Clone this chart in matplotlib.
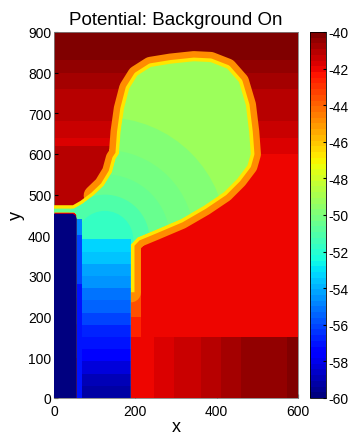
import numpy as np
import matplotlib
matplotlib.use('Agg')
import matplotlib.pyplot as plt
from matplotlib.collections import PatchCollection
from matplotlib.patches import Polygon, Rectangle, Circle
from matplotlib.colors import Normalize
from matplotlib.cm import ScalarMappable

plt.rcParams['font.family'] = ['Liberation Sans', 'DejaVu Sans']
plt.rcParams['axes.unicode_minus'] = False

# potential values
bg_bottoms = [0, 600, 640, 680, 720, 760, 800, 830]
bg_values = [-42.1, -41.7, -41.4, -41.2, -41.0, -40.7, -40.45, -40.15]

pocket_box = [0, 460, 150, 160]          # x, y, w, h of left red pocket
pocket_value = -41.2

lower_right_edges = [189, 246, 295, 361, 410, 459, 508, 574, 600]
lower_right_values = [-42.1, -41.7, -41.3, -41.0, -40.8, -40.6, -40.4, -40.15]
lower_right_top = 150

fade_bottoms = [150, 200]
fade_tops = [200, 262]
fade_values = [-42.7, -43.7]

# inner (green) edge of the orange border, from the channel up round the bulb
border_x = [189, 189, 205, 246, 312, 369, 418, 451, 476, 484, 480, 472, 455, 426,
            385, 344, 287, 238, 205, 185, 172, 164, 160, 152, 143, 123, 98, 70, 49, 0]
border_y = [260, 378, 395, 412, 440, 473, 506, 539, 572, 600, 654, 720, 777, 810,
            826, 828, 822, 814, 793, 761, 711, 654, 600, 588, 555, 522, 498, 477, 465, 465]
close_x = [0, 50, 56, 56, 189, 189]
close_y = [457, 457, 450, 0, 0, 230]
orange_end = 26          # the thick orange part stops at the neck
border_value = -44.8
border_inner_value = -46.6
bulb_value = -49.3

neck_center = (125, 390)
neck_radii = [300, 220, 160, 110, 70]
neck_values = [-49.7, -50.1, -50.5, -51.0, -51.6]

channel_bottoms = [0, 30, 60, 90, 120, 150, 180, 210, 240, 270, 300, 330, 360]
channel_values = [-59.3, -58.8, -58.2, -57.6, -57.1, -56.6, -56.1, -55.6,
                  -55.1, -54.6, -54.2, -53.7, -53.2]
channel_top = 392

strip_bottoms = [0, 280, 400]
strip_tops = [280, 400, 440]
strip_values = [-57.0, -56.0, -55.0]

electrode_x = [0, 56, 56, 53, 46, 0]
electrode_y = [0, 0, 440, 449, 453, 453]
electrode_value = -59.8

cbar_ticks = list(range(-40, -61, -2))

cmap = plt.get_cmap('jet', 64)
norm = Normalize(-60, -40)

fig = plt.figure(figsize=(3.51, 4.35), dpi=100)
ax = fig.add_axes([0.1538, 0.0828, 0.695, 0.8414])
cax = fig.add_axes([0.883, 0.0828, 0.0456, 0.8414])


def add_layer(patches, values, z, clip=None):
    pc = PatchCollection(patches, cmap=cmap, norm=norm, edgecolor='none',
                         linewidth=0, zorder=z)
    pc.set_array(np.asarray(values))
    ax.add_collection(pc)
    if clip is not None:
        pc.set_clip_path(clip)
    return pc


tops = bg_bottoms[1:] + [900]
add_layer([Rectangle((0, b), 600, t - b) for b, t in zip(bg_bottoms, tops)], bg_values, 1)
add_layer([Rectangle(pocket_box[:2], pocket_box[2], pocket_box[3])], [pocket_value], 1.5)
add_layer([Rectangle((l, 0), r - l, lower_right_top)
           for l, r in zip(lower_right_edges[:-1], lower_right_edges[1:])],
          lower_right_values, 2)
add_layer([Rectangle((189, b), 24, t - b) for b, t in zip(fade_bottoms, fade_tops)],
          fade_values, 2)

# border drawn as thick strokes along the inner edge
pt_per_unit = 0.695 * 3.51 * 72 / 600
ax.plot(border_x[:orange_end + 1], border_y[:orange_end + 1],
        color=cmap(norm(border_value)), lw=2 * 25 * pt_per_unit,
        solid_joinstyle='round', solid_capstyle='round', zorder=3)
ax.plot(border_x, border_y, color=cmap(norm(border_inner_value)), lw=2 * 9 * pt_per_unit,
        solid_joinstyle='round', solid_capstyle='butt', zorder=3.1)

low_xy = np.column_stack([border_x + close_x, border_y + close_y])
add_layer([Polygon(low_xy, closed=True)], [bulb_value], 4)
clip_patch = Polygon(low_xy, closed=True, transform=ax.transData)

add_layer([Circle(neck_center, r) for r in neck_radii], neck_values, 5, clip=clip_patch)
ch_tops = channel_bottoms[1:] + [channel_top]
add_layer([Rectangle((56, b), 133, t - b) for b, t in zip(channel_bottoms, ch_tops)],
          channel_values, 6, clip=clip_patch)
add_layer([Rectangle((56, b), 14, t - b) for b, t in zip(strip_bottoms, strip_tops)],
          strip_values, 7)
add_layer([Polygon(np.column_stack([electrode_x, electrode_y]), closed=True)],
          [electrode_value], 8)

ax.set_xlim(0, 600)
ax.set_ylim(0, 900)
ax.set_xticks([0, 200, 400, 600])
ax.set_yticks(range(0, 901, 100))
ax.tick_params(direction='in', length=3, labelsize=10, pad=2)
ax.tick_params(axis='x', pad=4)
ax.set_xlabel('x', fontsize=13, labelpad=0)
ax.set_ylabel('y', fontsize=13, labelpad=2)
ax.set_title('Potential: Background On', fontsize=13.5, pad=6)
for s in ax.spines.values():
    s.set_linewidth(0.6)
    s.set_color('#808080')

cb = fig.colorbar(ScalarMappable(norm=norm, cmap=cmap), cax=cax, ticks=cbar_ticks)
cb.ax.tick_params(direction='in', length=2, labelsize=10, pad=2)
cb.outline.set_linewidth(0.6)

fig.savefig('out.png', dpi=100)
